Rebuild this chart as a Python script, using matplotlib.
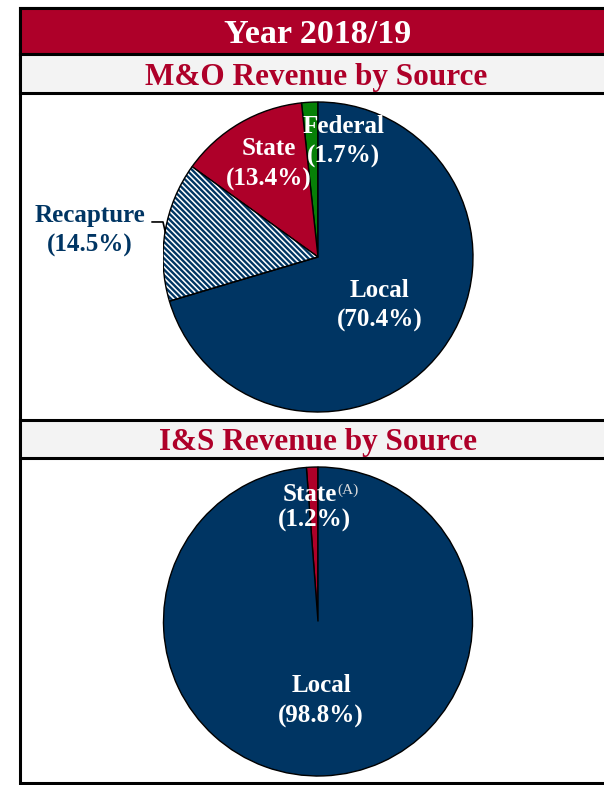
import matplotlib
matplotlib.use("Agg")
import matplotlib.pyplot as plt
from matplotlib.patches import Rectangle, Wedge

# data
mo_labels = ["Federal", "State", "Recapture", "Local"]
mo_values = [1.7, 13.4, 14.5, 70.4]
is_labels = ["State", "Local"]
is_values = [1.2, 98.8]

NAVY = "#003563"
RED = "#AE0029"
GREEN = "#078007"
GREY = "#F3F3F3"

W, H = 604, 785
plt.rcParams['font.family'] = ['Liberation Serif', 'DejaVu Serif']
plt.rcParams['hatch.linewidth'] = 1.7

fig = plt.figure(figsize=(W / 100, H / 100), dpi=100)


def box(x0, y0, x1, y1, fc, lw=2.2):
    # pixel coords, y from top
    r = Rectangle((x0 / W, 1 - y1 / H), (x1 - x0) / W, (y1 - y0) / H,
                  transform=fig.transFigure, facecolor=fc, edgecolor="black",
                  linewidth=lw, zorder=-1)
    fig.patches.append(r)


def ftext(x, y, s, **kw):
    fig.text(x / W, 1 - y / H, s, ha="center", va="baseline", **kw)


# frame and bands
box(20, 8, 640, 783, "white")
box(20, 8, 640, 54, RED)
box(20, 54, 640, 93, GREY)
box(20, 420, 640, 458, GREY)

ftext(318, 43, "Year 2018/19", color="white", fontsize=24.5, fontweight="bold")
ftext(316, 85, "M&O Revenue by Source", color=RED, fontsize=22.5, fontweight="bold")
ftext(318, 450, "I&S Revenue by Source", color=RED, fontsize=22.5, fontweight="bold")


def pie_axes(cx, cy, r):
    ax = fig.add_axes([(cx - r) / W, 1 - (cy + r) / H, 2 * r / W, 2 * r / H])
    ax.set_zorder(2)
    ax.axis("off")
    return ax


lab = dict(fontsize=18, fontweight="bold", ha="center", va="center",
           linespacing=1.38)

# M&O pie
ax1 = pie_axes(318, 257, 155)
wedges, _ = ax1.pie(mo_values, colors=[GREEN, RED, "white", NAVY],
                    startangle=90, counterclock=True, radius=1,
                    wedgeprops=dict(edgecolor="black", linewidth=1.0))
rc = wedges[2]
rc.set_edgecolor(NAVY)
rc.set_linewidth(0)
rc.set_hatch("\\\\\\\\\\\\")
ax1.add_patch(Wedge(rc.center, rc.r, rc.theta1, rc.theta2, fill=False,
                    edgecolor="black", linewidth=1.0))
ax1.set_xlim(-1, 1)
ax1.set_ylim(-1, 1)

ax1.text(0.165, 0.745, "Federal\n(1.7%)", color="white", **lab)
ax1.text(-0.32, 0.60, "State\n(13.4%)", color="white", **lab)
ax1.text(0.40, -0.315, "Local\n(70.4%)", color="white", **lab)
ax1.text(-1.47, 0.17, "Recapture\n(14.5%)", color=NAVY, clip_on=False, **lab)
ax1.plot([-1.07, -1.0, -0.985], [0.226, 0.226, 0.16], color="black",
         linewidth=1.2, clip_on=False)

# I&S pie
ax2 = pie_axes(318, 621.5, 154.5)
ax2.pie(is_values, colors=[RED, NAVY], startangle=90, counterclock=True,
        radius=1, wedgeprops=dict(edgecolor="black", linewidth=1.0))
ax2.set_xlim(-1, 1)
ax2.set_ylim(-1, 1)
ax2.text(-0.05, 0.825, "State", color="white", **lab)
ax2.text(0.195, 0.85, "(A)", color="#dcdcdc", fontsize=11, ha="center",
         va="center")
ax2.text(-0.026, 0.655, "(1.2%)", color="white", **lab)
ax2.text(0.02, -0.515, "Local\n(98.8%)", color="white", **lab)

fig.savefig("out.png", dpi=100)
